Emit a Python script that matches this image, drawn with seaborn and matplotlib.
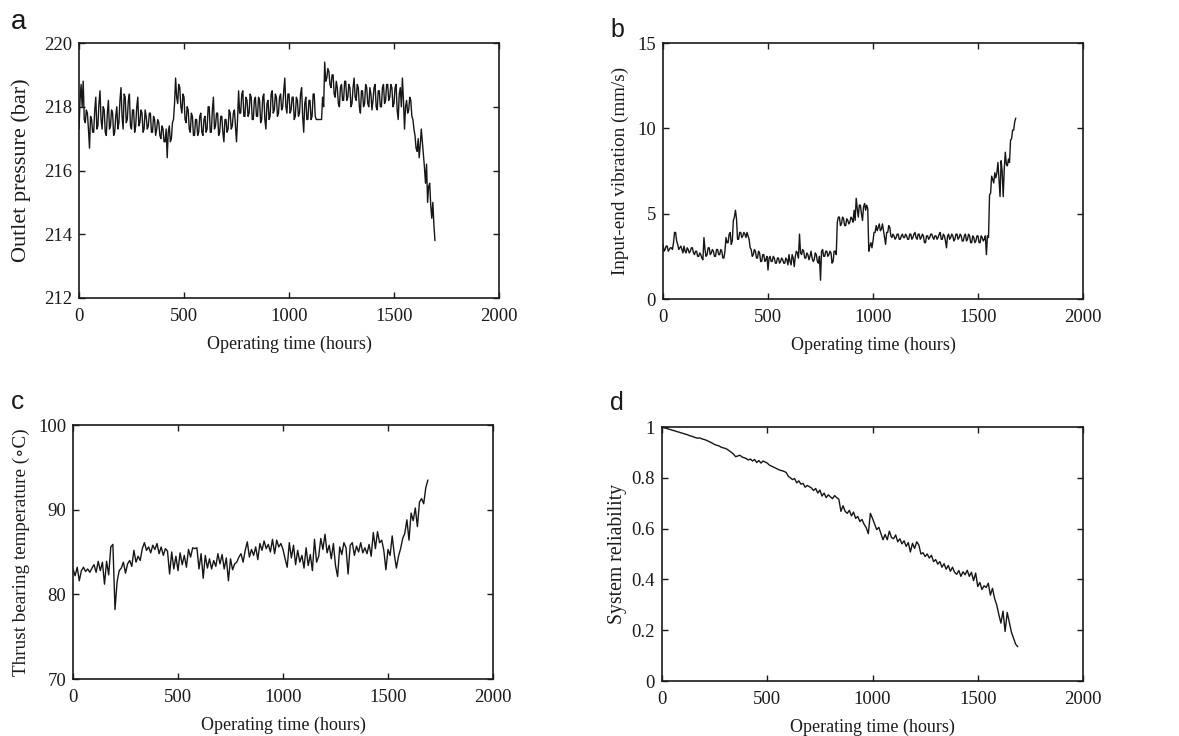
import numpy as np
import pandas as pd
import seaborn as sns
import matplotlib
matplotlib.use("Agg")
import matplotlib.pyplot as plt

# ---------------- data ----------------
# (a) outlet pressure, 5-hour spacing
pressure = [
    217.3, 218.2, 218.7, 218.0, 218.8, 217.6, 217.5, 217.9, 217.8, 217.3, 216.7, 217.7, 217.6, 217.2, 217.2, 217.9, 218.3, 217.3, 217.4, 218.1,
    218.5, 217.6, 217.3, 218.0, 217.9, 217.2, 217.1, 217.8, 218.2, 217.3, 217.4, 217.9, 217.8, 217.1, 217.2, 217.7, 218.0, 217.3, 217.5, 218.2,
    218.6, 217.7, 217.3, 218.4, 218.3, 217.5, 217.6, 218.2, 218.4, 217.4, 217.3, 217.9, 217.9, 217.2, 217.4, 218.0, 218.3, 217.4, 217.5, 217.9,
    217.8, 217.2, 217.3, 217.9, 217.7, 217.3, 217.4, 217.8, 217.8, 217.2, 217.2, 217.7, 217.6, 217.1, 217.3, 217.6, 217.5, 217.1, 217.0, 217.4,
    217.3, 216.9, 216.9, 217.3, 216.4, 217.2, 217.4, 216.9, 217.0, 217.5, 217.6, 218.1, 218.9, 218.3, 218.1, 218.7, 218.6, 218.0, 217.8, 218.4,
    218.3, 217.6, 217.5, 218.0, 217.9, 217.3, 217.2, 217.8, 217.7, 217.1, 217.1, 217.6, 217.6, 217.1, 217.2, 217.7, 217.8, 217.2, 217.1, 217.6,
    217.7, 217.2, 217.3, 218.0, 218.0, 217.2, 217.2, 217.9, 218.3, 217.3, 217.4, 217.8, 217.8, 217.1, 217.2, 217.7, 217.7, 217.2, 216.9, 217.6,
    217.6, 217.2, 217.3, 217.9, 217.8, 217.3, 217.4, 217.8, 217.9, 217.4, 216.9, 217.6, 218.5, 217.8, 217.8, 218.4, 218.5, 217.7, 217.7, 218.3,
    218.2, 217.7, 217.8, 218.4, 218.3, 217.6, 217.6, 218.2, 218.3, 217.7, 217.7, 218.3, 218.2, 217.5, 217.6, 218.3, 218.4, 217.6, 217.3, 218.1,
    218.2, 217.6, 217.7, 218.4, 218.5, 217.8, 217.9, 218.4, 218.3, 217.7, 217.8, 218.3, 218.4, 217.9, 218.0, 218.5, 218.9, 218.0, 217.8, 218.4,
    218.4, 217.8, 217.9, 218.3, 218.3, 217.6, 217.7, 218.3, 218.2, 217.7, 217.8, 218.4, 218.6, 217.7, 217.2, 218.1, 218.3, 217.6, 217.6, 218.2,
    218.2, 217.6, 217.7, 218.4, 218.4, 217.7, 217.6, 217.6, 217.6, 217.6, 217.6, 217.6, 218.3, 218.0, 219.4, 218.8, 218.9, 219.2, 219.1, 218.7,
    218.6, 219.0, 219.0, 218.4, 218.3, 218.8, 218.6, 218.1, 218.0, 218.6, 218.7, 218.2, 218.2, 218.8, 218.8, 218.2, 218.3, 218.7, 218.6, 218.0,
    218.1, 218.6, 218.9, 218.3, 218.2, 218.7, 218.6, 218.0, 217.8, 218.5, 218.5, 218.0, 218.1, 218.7, 218.6, 218.1, 218.0, 218.6, 218.4, 217.9,
    218.2, 218.6, 218.7, 218.0, 217.9, 218.5, 218.5, 218.0, 218.0, 218.6, 218.7, 218.1, 218.2, 218.7, 218.7, 218.2, 218.3, 218.7, 218.6, 218.0,
    218.1, 218.6, 218.7, 217.9, 217.6, 218.4, 218.6, 218.0, 218.9, 218.2, 217.3, 218.0, 218.2, 217.8, 217.9, 218.3, 218.2, 217.7, 217.6, 217.3,
    217.1, 216.7, 216.6, 217.0, 216.4, 216.8, 217.3, 216.9, 216.5, 216.1, 215.6, 216.2, 215.0, 215.5, 215.6, 214.9, 214.5, 215.0, 214.3, 213.8,
]
hours_a = list(range(0, 5 * len(pressure), 5))

# (b) input-end vibration, 5-hour spacing
vibration = [
    3.2, 2.8, 2.9, 3.1, 3.1, 2.8, 2.9, 3.0, 3.0, 2.9, 3.3, 3.9, 3.9, 3.4, 3.2, 2.9, 3.0, 3.1, 2.9, 2.7,
    3.1, 2.8, 2.7, 3.0, 2.9, 2.7, 2.8, 3.0, 3.0, 2.7, 2.6, 2.8, 2.8, 2.5, 2.5, 2.7, 2.6, 2.4, 2.3, 3.6,
    2.9, 2.5, 2.6, 3.0, 3.0, 2.6, 2.7, 2.9, 2.8, 2.5, 2.5, 2.9, 2.9, 2.6, 2.6, 2.9, 2.8, 2.4, 2.4, 2.8,
    3.6, 3.3, 3.3, 3.8, 3.9, 3.2, 3.4, 4.6, 4.8, 5.2, 4.7, 3.5, 3.5, 3.9, 3.9, 3.6, 3.7, 3.9, 3.8, 3.6,
    3.9, 3.7, 3.5, 3.0, 2.9, 2.5, 2.6, 2.9, 2.8, 2.4, 2.4, 2.8, 2.7, 2.2, 2.2, 2.6, 2.6, 2.2, 2.3, 2.5,
    1.7, 2.4, 2.5, 2.2, 2.2, 2.5, 2.4, 2.1, 2.1, 2.4, 2.4, 2.1, 2.2, 2.4, 2.3, 2.1, 2.1, 2.4, 2.3, 2.0,
    2.6, 2.2, 2.0, 2.6, 2.4, 1.9, 2.5, 2.8, 2.7, 2.4, 3.8, 2.7, 2.6, 2.9, 2.8, 2.4, 2.4, 2.7, 2.6, 2.3,
    2.5, 2.8, 2.4, 2.2, 2.3, 2.7, 2.6, 2.2, 2.1, 2.5, 1.1, 2.8, 2.9, 2.5, 2.5, 2.8, 2.8, 2.5, 2.6, 2.8,
    2.7, 2.1, 2.2, 2.8, 2.8, 2.6, 4.5, 4.8, 4.8, 4.3, 4.4, 4.8, 4.7, 4.3, 4.3, 4.7, 4.6, 4.4, 4.5, 4.8,
    4.7, 4.5, 5.2, 4.6, 5.9, 5.3, 4.8, 5.5, 5.5, 5.0, 4.6, 5.4, 5.6, 5.2, 5.5, 5.3, 2.8, 3.1, 3.3, 3.0,
    3.4, 3.9, 3.9, 4.3, 4.0, 4.2, 4.4, 4.0, 4.1, 4.4, 4.0, 3.6, 3.2, 3.9, 3.9, 4.3, 4.2, 3.7, 3.6, 3.8,
    3.7, 3.5, 3.6, 3.8, 3.8, 3.5, 3.5, 3.7, 3.8, 3.6, 3.6, 3.8, 3.7, 3.5, 3.5, 3.8, 3.8, 3.5, 3.6, 3.8,
    3.9, 3.6, 3.5, 3.8, 3.8, 3.5, 3.6, 3.8, 3.7, 3.3, 3.3, 3.7, 3.7, 3.5, 3.6, 3.8, 3.8, 3.6, 3.5, 3.7,
    3.7, 3.5, 3.6, 3.8, 3.9, 3.5, 3.5, 3.8, 3.7, 3.4, 3.0, 3.7, 3.8, 3.5, 3.6, 3.8, 3.7, 3.4, 3.5, 3.8,
    3.8, 3.5, 3.6, 3.8, 3.7, 3.4, 3.4, 3.7, 3.8, 3.4, 3.5, 3.8, 3.7, 3.3, 3.3, 3.7, 3.6, 3.3, 3.4, 3.7,
    3.7, 3.3, 3.3, 3.7, 3.6, 3.4, 3.5, 3.7, 2.6, 3.7, 3.6, 6.1, 6.2, 7.2, 7.0, 6.8, 7.4, 7.1, 7.4, 8.0,
    7.0, 6.0, 8.1, 7.5, 6.0, 7.6, 8.6, 7.9, 7.8, 8.2, 8.0, 9.3, 9.4, 9.9, 9.9, 10.4, 10.6,
]
hours_b = list(range(0, 5 * len(vibration), 5))

# (c) thrust bearing temperature, 10-hour spacing
temperature = [
    83.0, 82.2, 83.2, 81.6, 82.8, 83.2, 82.7, 83.0, 82.6, 83.1,
    83.5, 82.6, 83.9, 82.8, 83.8, 81.2, 83.9, 82.3, 85.6, 85.9,
    78.2, 81.5, 82.8, 83.1, 83.8, 82.5, 83.6, 84.0, 83.3, 85.2,
    83.8, 84.5, 84.0, 85.4, 86.1, 85.2, 85.6, 84.9, 85.8, 85.3,
    86.0, 84.8, 85.6, 84.6, 85.4, 85.1, 82.4, 85.0, 83.0, 84.5,
    82.8, 84.9, 83.5, 84.6, 83.2, 85.3, 84.4, 85.5, 85.4, 85.5,
    83.0, 84.8, 81.9, 84.6, 83.1, 84.2, 83.0, 84.0, 83.3, 84.8,
    83.6, 84.7, 83.0, 84.3, 81.6, 84.2, 82.9, 83.6, 83.8, 84.4,
    84.8, 83.8, 85.2, 86.2, 84.4, 85.3, 84.6, 85.6, 84.1, 86.0,
    85.2, 86.3, 85.4, 85.9, 85.0, 86.5, 84.8, 86.4, 85.6, 86.0,
    85.3, 84.2, 83.2, 86.1, 84.3, 85.8, 83.5, 85.2, 83.8, 84.6,
    83.1, 85.5, 83.4, 84.7, 82.8, 86.5, 83.8, 84.5, 86.6, 85.3,
    87.1, 84.9, 85.8, 84.2, 86.0, 83.4, 82.1, 85.6, 84.7, 86.1,
    85.5, 82.4, 85.8, 86.1, 84.6, 85.7, 85.0, 86.1, 84.9, 85.5,
    84.8, 85.9, 84.5, 87.3, 85.4, 87.4, 86.1, 86.4, 85.2, 82.9,
    85.3, 84.6, 86.9, 84.7, 83.1, 84.5, 85.4, 86.6, 87.2, 88.8,
    86.4, 89.6, 88.7, 90.2, 88.0, 90.9, 91.3, 90.7, 92.6, 93.5,
]
hours_c = list(range(0, 10 * len(temperature), 10))

# (d) system reliability, 10-hour spacing
reliability = [
    1.000, 0.997, 0.995, 0.992, 0.990, 0.987, 0.985, 0.982, 0.980, 0.977,
    0.975, 0.972, 0.970, 0.966, 0.964, 0.961, 0.958, 0.956, 0.957, 0.953,
    0.951, 0.948, 0.944, 0.940, 0.936, 0.931, 0.928, 0.926, 0.921, 0.918,
    0.916, 0.912, 0.906, 0.900, 0.893, 0.883, 0.886, 0.889, 0.882, 0.879,
    0.876, 0.870, 0.874, 0.866, 0.872, 0.860, 0.868, 0.858, 0.866, 0.862,
    0.858, 0.850, 0.846, 0.842, 0.838, 0.834, 0.830, 0.828, 0.825, 0.821,
    0.806, 0.800, 0.793, 0.797, 0.780, 0.788, 0.775, 0.778, 0.763, 0.770,
    0.765, 0.760, 0.750, 0.758, 0.740, 0.752, 0.728, 0.740, 0.722, 0.733,
    0.725, 0.718, 0.730, 0.722, 0.716, 0.668, 0.690, 0.668, 0.660, 0.672,
    0.650, 0.665, 0.640, 0.648, 0.628, 0.636, 0.617, 0.604, 0.580, 0.660,
    0.640, 0.618, 0.596, 0.605, 0.580, 0.556, 0.577, 0.556, 0.590, 0.565,
    0.560, 0.575, 0.548, 0.560, 0.540, 0.552, 0.530, 0.545, 0.508, 0.542,
    0.522, 0.548, 0.536, 0.500, 0.505, 0.490, 0.500, 0.484, 0.495, 0.470,
    0.478, 0.460, 0.470, 0.448, 0.462, 0.440, 0.455, 0.432, 0.448, 0.428,
    0.420, 0.435, 0.412, 0.430, 0.418, 0.436, 0.412, 0.428, 0.395, 0.425,
    0.372, 0.388, 0.360, 0.375, 0.368, 0.385, 0.338, 0.365, 0.325, 0.300,
    0.262, 0.228, 0.275, 0.195, 0.270, 0.230, 0.192, 0.168, 0.145, 0.135,
]
hours_d = list(range(0, 10 * len(reliability), 10))

panel_letters = ["a", "b", "c", "d"]
y_labels = ["Outlet pressure (bar)", "Input-end vibration (mm/s)",
            "Thrust bearing temperature (\u2218C)", "System reliability"]
x_label = "Operating time (hours)"
x_ticks = [0, 500, 1000, 1500, 2000]
y_limits = [(212, 220), (0, 15), (70, 100), (0, 1)]
y_ticks = [[212, 214, 216, 218, 220], [0, 5, 10, 15], [70, 80, 90, 100],
           [0, 0.2, 0.4, 0.6, 0.8, 1]]
y_ticklabels = [["212", "214", "216", "218", "220"], ["0", "5", "10", "15"],
                ["70", "80", "90", "100"], ["0", "0.2", "0.4", "0.6", "0.8", "1"]]

# ---------------- figure ----------------
sns.set_theme(style="white")
plt.rcParams["font.family"] = ["Liberation Serif", "DejaVu Serif"]

W, H = 1179, 736
fig = plt.figure(figsize=(W / 100, H / 100), dpi=100)
fig.patch.set_facecolor("white")

# axes rectangles in pixels: left, top, right, bottom
rects = [(79, 43, 499, 298), (663, 43, 1083, 299),
         (73, 425, 493, 679), (662, 427, 1083, 681)]
letter_pos = [(11, 29), (610, 37), (11, 409), (610, 410)]
letter_size = [20, 18, 19, 18]
ylabel_size = [16, 13.8, 13.8, 14.2]
ylabel_pad = [9, 6, 6, 3]
line_w = [1.0, 1.0, 1.0, 1.0]

series = [(hours_a, pressure), (hours_b, vibration),
          (hours_c, temperature), (hours_d, reliability)]

for i, ((l, t, r, b), (xs, ys)) in enumerate(zip(rects, series)):
    ax = fig.add_axes([l / W, 1 - b / H, (r - l) / W, (b - t) / H])
    df = pd.DataFrame({"hours": xs, "value": ys})
    sns.lineplot(data=df, x="hours", y="value", ax=ax, color="#161616",
                 linewidth=line_w[i], estimator=None, sort=False)
    ax.set_xlim(0, 2000)
    ax.set_ylim(*y_limits[i])
    ax.set_xticks(x_ticks)
    ax.set_xticklabels([str(v) for v in x_ticks])
    ax.set_yticks(y_ticks[i])
    ax.set_yticklabels(y_ticklabels[i])
    ax.tick_params(direction="in", length=4, width=1, top=True, right=True,
                   bottom=True, left=True, labelsize=13.5, colors="#1a1a1a")
    ax.tick_params(axis="x", pad=7)
    ax.tick_params(axis="y", pad=5)
    for s in ax.spines.values():
        s.set_color("#1a1a1a")
        s.set_linewidth(1.2)
        s.set_visible(True)
    ax.set_xlabel(x_label, fontsize=13, color="#1a1a1a", labelpad=8)
    ax.set_ylabel(y_labels[i], fontsize=ylabel_size[i], color="#1a1a1a",
                  labelpad=ylabel_pad[i])
    ax.grid(False)
    fig.text(letter_pos[i][0] / W, 1 - letter_pos[i][1] / H, panel_letters[i],
             fontsize=letter_size[i], family=["Liberation Sans", "DejaVu Sans"],
             color="#1a1a1a", ha="left", va="baseline")

fig.savefig("out.png", dpi=100, facecolor="white")
